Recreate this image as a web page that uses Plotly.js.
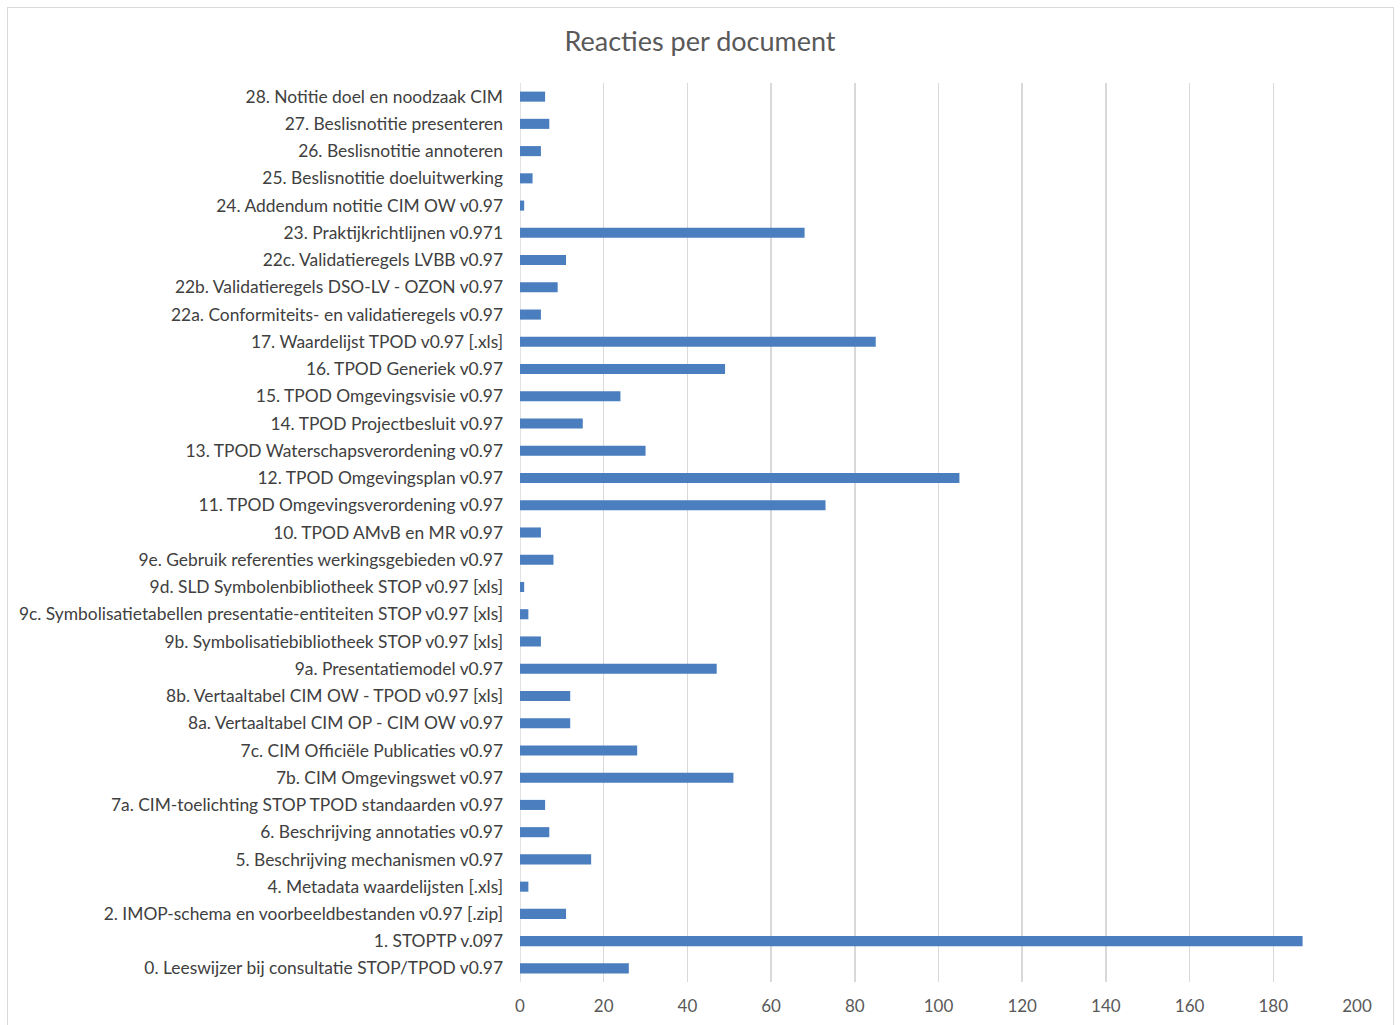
<!DOCTYPE html>
<html>
<head>
<meta charset="utf-8">
<script src="https://cdn.plot.ly/plotly-3.0.1.min.js"></script>
<style>
html,body{margin:0;padding:0;background:#fff;}
#wrap{position:relative;width:1400px;height:1025px;}
#chart{width:1400px;height:1025px;}
#frame{position:absolute;left:7px;top:7px;width:1385px;height:1030px;border:1px solid #d9d9d9;pointer-events:none;}
</style>
</head>
<body>
<div id="wrap"><div id="chart"></div><div id="frame"></div></div>
<script>
const categories = [
  "0. Leeswijzer bij consultatie STOP/TPOD v0.97",
  "1. STOPTP v.097",
  "2. IMOP-schema en voorbeeldbestanden v0.97 [.zip]",
  "4. Metadata waardelijsten [.xls]",
  "5. Beschrijving mechanismen v0.97",
  "6. Beschrijving annotaties v0.97",
  "7a. CIM-toelichting STOP TPOD standaarden v0.97",
  "7b. CIM Omgevingswet v0.97",
  "7c. CIM Officiële Publicaties v0.97",
  "8a. Vertaaltabel CIM OP - CIM OW v0.97",
  "8b. Vertaaltabel CIM OW - TPOD v0.97 [xls]",
  "9a. Presentatiemodel v0.97",
  "9b. Symbolisatiebibliotheek STOP v0.97 [xls]",
  "9c. Symbolisatietabellen presentatie-entiteiten STOP v0.97 [xls]",
  "9d. SLD Symbolenbibliotheek STOP v0.97 [xls]",
  "9e. Gebruik referenties werkingsgebieden v0.97",
  "10. TPOD AMvB en MR v0.97",
  "11. TPOD Omgevingsverordening v0.97",
  "12. TPOD Omgevingsplan v0.97",
  "13. TPOD Waterschapsverordening v0.97",
  "14. TPOD Projectbesluit v0.97",
  "15. TPOD Omgevingsvisie v0.97",
  "16. TPOD Generiek v0.97",
  "17. Waardelijst TPOD v0.97 [.xls]",
  "22a. Conformiteits- en validatieregels v0.97",
  "22b. Validatieregels DSO-LV - OZON v0.97",
  "22c. Validatieregels LVBB v0.97",
  "23. Praktijkrichtlijnen v0.971",
  "24. Addendum notitie CIM OW v0.97",
  "25. Beslisnotitie doeluitwerking",
  "26. Beslisnotitie annoteren",
  "27. Beslisnotitie presenteren",
  "28. Notitie doel en noodzaak CIM"
];
const reacties = [26, 187, 11, 2, 17, 7, 6, 51, 28, 12, 12, 47, 5, 2, 1, 8, 5, 73, 105, 30, 15, 24, 49, 85, 5, 9, 11, 68, 1, 3, 5, 7, 6];
const xTicks = [0, 20, 40, 60, 80, 100, 120, 140, 160, 180, 200];
const chartTitle = "Reacties per document";

const font = "Lato, 'Liberation Sans', sans-serif";
Plotly.newPlot("chart", [{
  type: "bar",
  orientation: "h",
  y: categories,
  x: reacties,
  marker: {color: "#4a7ebf", line: {width: 0}},
  hoverinfo: "x+y"
}], {
  width: 1400, height: 1025,
  paper_bgcolor: "#ffffff", plot_bgcolor: "#ffffff",
  margin: {l: 520, r: 43, t: 83, b: 43},
  bargap: 0.63,
  showlegend: false,
  title: {text: chartTitle, x: 0.5, xanchor: "center", y: 1 - 42/1025, yanchor: "middle",
          font: {family: font, size: 27, color: "#595959"}},
  xaxis: {
    range: [0, 200], tickvals: xTicks, ticktext: xTicks.map(String),
    showgrid: true, gridcolor: "#d9d9d9", gridwidth: 1.5,
    zeroline: false, showline: false, ticks: "",
    ticklabelstandoff: 12,
    tickfont: {family: font, size: 17, color: "#595959"}, fixedrange: true
  },
  yaxis: {
    type: "category", categoryorder: "array", categoryarray: categories,
    showgrid: false, zeroline: false, showline: false, ticks: "",
    ticklabelstandoff: 16,
    tickfont: {family: font, size: 17.4, color: "#404040"}, automargin: false, fixedrange: true
  },
  shapes: [{type: "line", xref: "x", yref: "paper", x0: 0, x1: 0, y0: 0, y1: 1,
            line: {color: "#d9d9d9", width: 1.5}, layer: "below"}]
}, {displayModeBar: false, staticPlot: true});
</script>
</body>
</html>
